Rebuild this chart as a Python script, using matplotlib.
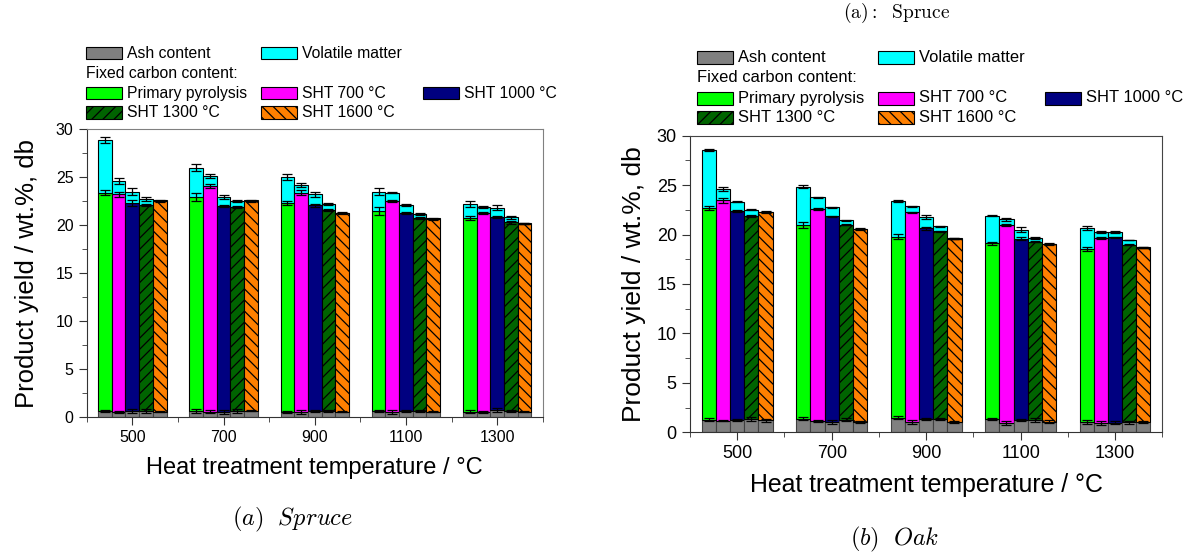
import numpy as np
import matplotlib
matplotlib.use('Agg')
import matplotlib.pyplot as plt
from matplotlib.patches import Rectangle
from matplotlib.ticker import MultipleLocator

plt.rcParams.update({
    'font.family': ['Liberation Sans', 'DejaVu Sans'],
    'mathtext.fontset': 'cm',
    'hatch.linewidth': 0.9,
})

W, H = 1193, 555

temps = [500, 700, 900, 1100, 1300]
series = ['Primary pyrolysis', 'SHT 700 °C', 'SHT 1000 °C', 'SHT 1300 °C', 'SHT 1600 °C']

# rows = heat treatment temperature, columns = series
spruce_ash = [[0.6, 0.5, 0.6, 0.6, 0.5],
              [0.6, 0.5, 0.5, 0.6, 0.6],
              [0.5, 0.5, 0.6, 0.6, 0.5],
              [0.6, 0.5, 0.6, 0.6, 0.5],
              [0.5, 0.5, 0.7, 0.6, 0.5]]
spruce_fc = [[22.8, 22.7, 21.7, 21.5, 22.0],
             [22.3, 23.6, 21.5, 21.3, 21.9],
             [21.8, 22.9, 21.45, 21.0, 20.75],
             [20.9, 22.0, 20.7, 20.1, 20.1],
             [20.2, 20.8, 20.1, 19.7, 19.65]]
spruce_vm = [[5.5, 1.4, 1.2, 0.6, 0.1],
             [3.1, 1.0, 0.9, 0.6, 0.1],
             [2.7, 0.8, 1.15, 0.6, 0.05],
             [2.0, 0.9, 0.8, 0.45, 0.1],
             [1.5, 0.55, 1.0, 0.5, 0.05]]
spruce_ash_err = [[0.1, 0.1, 0.2, 0.2, 0.05],
                  [0.2, 0.15, 0.2, 0.25, 0.05],
                  [0.1, 0.2, 0.15, 0.15, 0.05],
                  [0.1, 0.2, 0.1, 0.15, 0.05],
                  [0.15, 0.1, 0.2, 0.1, 0.05]]
spruce_fc_err = [[0.3, 0.3, 0.3, 0.15, 0.05],
                 [0.4, 0.2, 0.15, 0.1, 0.05],
                 [0.2, 0.3, 0.2, 0.1, 0.05],
                 [0.4, 0.1, 0.1, 0.1, 0.05],
                 [0.2, 0.1, 0.1, 0.15, 0.05]]
spruce_vm_err = [[0.3, 0.3, 0.35, 0.2, 0.05],
                 [0.4, 0.2, 0.2, 0.1, 0.05],
                 [0.3, 0.2, 0.3, 0.1, 0.05],
                 [0.4, 0.1, 0.1, 0.1, 0.05],
                 [0.3, 0.1, 0.25, 0.2, 0.05]]

oak_ash = [[1.25, 1.15, 1.25, 1.3, 1.2],
           [1.35, 1.1, 1.0, 1.25, 1.0],
           [1.45, 1.0, 1.35, 1.35, 1.05],
           [1.35, 0.95, 1.25, 1.2, 1.05],
           [1.0, 0.95, 0.95, 1.0, 1.0]]
oak_fc = [[21.4, 22.3, 21.15, 20.6, 21.05],
          [19.65, 21.5, 20.85, 19.75, 19.55],
          [18.35, 21.25, 19.3, 19.0, 18.55],
          [17.75, 20.0, 18.35, 18.05, 17.95],
          [17.5, 18.7, 18.8, 17.95, 17.65]]
oak_vm = [[5.9, 1.2, 0.9, 0.6, 0.05],
          [3.85, 1.15, 0.9, 0.45, 0.05],
          [3.6, 0.6, 1.1, 0.5, 0.05],
          [2.8, 0.6, 0.9, 0.4, 0.05],
          [2.15, 0.6, 0.5, 0.5, 0.05]]
oak_ash_err = [[0.15, 0.05, 0.1, 0.2, 0.15],
               [0.15, 0.1, 0.2, 0.15, 0.1],
               [0.15, 0.2, 0.1, 0.1, 0.1],
               [0.1, 0.2, 0.1, 0.2, 0.15],
               [0.2, 0.2, 0.15, 0.15, 0.1]]
oak_fc_err = [[0.2, 0.25, 0.1, 0.1, 0.05],
              [0.3, 0.1, 0.05, 0.05, 0.05],
              [0.25, 0.05, 0.15, 0.05, 0.05],
              [0.15, 0.1, 0.15, 0.05, 0.05],
              [0.2, 0.1, 0.05, 0.05, 0.05]]
oak_vm_err = [[0.1, 0.2, 0.05, 0.05, 0.05],
              [0.15, 0.1, 0.05, 0.05, 0.05],
              [0.1, 0.05, 0.2, 0.05, 0.05],
              [0.05, 0.15, 0.25, 0.1, 0.05],
              [0.2, 0.1, 0.1, 0.05, 0.05]]

ASH_C = '#808080'
VM_C = '#00FFFF'
FC_STYLE = [('#00FF00', None), ('#FF00FF', None), ('#000080', None),
            ('#006400', '///'), ('#FF8000', '\\\\\\')]
BAR_W = 30
OFFSETS = [-60, -30, 0, 30, 60]


def draw_panel(ax, ash, fc, vm, ash_err, fc_err, vm_err,
               tick_fs, xlab_fs, ylab_fs, xpad, ypad):
    ash = np.array(ash); fc = np.array(fc); vm = np.array(vm)
    for j in range(len(series)):
        x = np.array(temps) + OFFSETS[j]
        col, hatch = FC_STYLE[j]
        ax.bar(x, ash[:, j], BAR_W, color=ASH_C, edgecolor='#404040', lw=0.8)
        ax.bar(x, fc[:, j], BAR_W, bottom=ash[:, j], color=col,
               edgecolor='black', hatch=hatch, lw=0.8)
        ax.bar(x, vm[:, j], BAR_W, bottom=ash[:, j] + fc[:, j], color=VM_C,
               edgecolor='black', lw=0.8)
        tops = [ash[:, j], ash[:, j] + fc[:, j], ash[:, j] + fc[:, j] + vm[:, j]]
        for t, e in zip(tops, [np.array(ash_err)[:, j], np.array(fc_err)[:, j],
                               np.array(vm_err)[:, j]]):
            ax.errorbar(x, t, yerr=e, fmt='none', ecolor='black',
                        elinewidth=0.9, capsize=3.5, capthick=0.9, zorder=4)
    ax.set_xlim(400, 1400)
    ax.set_ylim(0, 30)
    ax.set_xticks(temps)
    ax.xaxis.set_minor_locator(MultipleLocator(100))
    ax.yaxis.set_major_locator(MultipleLocator(5))
    ax.yaxis.set_minor_locator(MultipleLocator(2.5))
    ax.tick_params(which='both', direction='out', top=False, right=False,
                   labelsize=tick_fs, color='#333333')
    ax.tick_params(which='major', length=6)
    ax.tick_params(which='minor', length=3.5)
    for s in ['top', 'right']:
        ax.spines[s].set_color('#808080')
    for s in ['left', 'bottom']:
        ax.spines[s].set_color('#333333')
    ax.set_xlabel('Heat treatment temperature / °C', fontsize=xlab_fs,
                  labelpad=xpad)
    ax.set_ylabel('Product yield / wt.%, db', fontsize=ylab_fs, labelpad=ypad)


def fig_rect(fig, x, y, w, h, **kw):
    fig.add_artist(Rectangle((x / W, 1 - (y + h) / H), w / W, h / H,
                             transform=fig.transFigure, **kw))


def draw_legend(fig, cols, rows, pw, ph, fs):
    items = [[('Ash content', ASH_C, None), ('Volatile matter', VM_C, None)],
             None,
             [(series[0],) + FC_STYLE[0], (series[1],) + FC_STYLE[1],
              (series[2],) + FC_STYLE[2]],
             [(series[3],) + FC_STYLE[3], (series[4],) + FC_STYLE[4]]]
    for r, row in enumerate(items):
        yc = rows[r]
        if row is None:
            fig.text(cols[0] / W, 1 - yc / H, 'Fixed carbon content:',
                     fontsize=fs, va='center', ha='left')
            continue
        for c, (lab, col, hatch) in enumerate(row):
            fig_rect(fig, cols[c], yc - ph / 2, pw, ph, facecolor=col,
                     edgecolor='black', hatch=hatch, lw=0.8)
            fig.text((cols[c] + pw + 5) / W, 1 - yc / H, lab,
                     fontsize=fs, va='center', ha='left')


fig = plt.figure(figsize=(W / 100, H / 100), dpi=100)

ax1 = fig.add_axes([86.7 / W, 1 - 416.7 / H, 456 / W, 287.4 / H])
draw_panel(ax1, spruce_ash, spruce_fc, spruce_vm,
           spruce_ash_err, spruce_fc_err, spruce_vm_err,
           11.5, 17, 18.5, 8.5, 12)

ax2 = fig.add_axes([690 / W, 1 - 432.3 / H, 472.3 / W, 296.6 / H])
draw_panel(ax2, oak_ash, oak_fc, oak_vm,
           oak_ash_err, oak_fc_err, oak_vm_err,
           13, 17.9, 19, 7.5, 7.5)
for s in ['top', 'right']:
    ax2.spines[s].set_color('#444444')

draw_legend(fig, [86, 261, 423], [53, 73.3, 93, 112.7], 36, 12.5, 11.3)
draw_legend(fig, [697, 878, 1045], [57.3, 78, 98, 117.5], 36, 13, 11.9)

fig.text(292 / W, 1 - 519 / H, r'$\mathit{(a)\ \ Spruce}$', fontsize=17.5,
         ha='center', va='center')
fig.text(895 / W, 1 - 539 / H, r'$\mathit{(b)\ \ Oak}$', fontsize=17.5,
         ha='center', va='center')
fig.text(897 / W, 1 - 0.5 / H, r'$\mathrm{(a):\ \ Spruce}$', fontsize=14,
         ha='center', va='top')

fig.savefig('out.png', dpi=100)
